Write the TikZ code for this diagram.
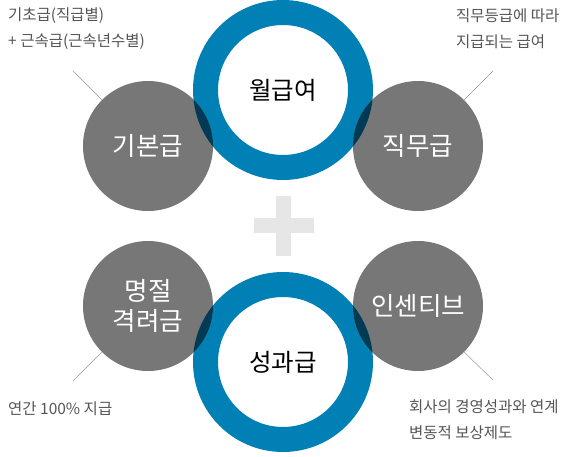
\documentclass[tikz,border=0pt]{standalone}
\usepackage{fontspec}
\setmainfont{Noto Sans CJK KR}
\definecolor{ringblue}{RGB}{0,128,180}
\definecolor{discgray}{RGB}{119,119,119}
\definecolor{overlapblue}{RGB}{0,58,84}
\definecolor{notegray}{RGB}{85,85,85}
\definecolor{plusgray}{RGB}{230,230,230}
\begin{document}
\begin{tikzpicture}[x=1pt,y=-1pt,
  ring/.style={circle, draw=ringblue, line width=25pt, minimum size=155pt, inner sep=0pt,
    font=\fontsize{24.5}{24.5}\selectfont},
  disc/.style={circle, fill=discgray, minimum size=130pt, inner sep=0pt, text=white,
    align=center, font=\fontsize{25.5}{30}\selectfont},
  note/.style={anchor=west, inner sep=0pt, text=notegray, align=left,
    font=\fontsize{15.5}{26}\selectfont},
  leader/.style={draw=black!40, line width=0.5pt}]
  \useasboundingbox (0,0) rectangle (565,457);
  % plus sign in the middle
  \def\cx{283.5} \def\cy{226}
  \fill[plusgray] (\cx-7.5,\cy-30) rectangle (\cx+7.5,\cy+30);
  \fill[plusgray] (\cx-30,\cy-7.5) rectangle (\cx+30,\cy+7.5);
  % two blue rings
  \node[ring] (monthly) at (283,90) {월급여};
  \node[ring] (perform) at (283,362) {성과급};
  % four gray discs
  \node[disc] (basic) at (148,146) {기본급};
  \node[disc] (duty) at (418,146) {직무급};
  \node[disc] (holiday) at (148,306) {명절\\격려금};
  \node[disc] (incent) at (418,306) {인센티브};
  % darker where disc and ring overlap
  \foreach \d/\r in {basic/monthly, duty/monthly, holiday/perform, incent/perform} {
    \begin{scope}
      \clip (\d.center) circle (65);
      \draw[overlapblue, line width=25pt] (\r.center) circle (77.5);
    \end{scope}
  }
  % leader lines
  \coordinate (basicend) at (73,71);
  \coordinate (dutyend) at (493,71);
  \coordinate (holidayend) at (73,381);
  \coordinate (incentend) at (493,380);
  \draw[leader] (basic.135) -- (basicend);
  \draw[leader] (duty.45) -- (dutyend);
  \draw[leader] (holiday.225) -- (holidayend);
  \draw[leader] (incent.315) -- (incentend);
  % notes
  \node[note] (basicnote) at (8,29) {기초급(직급별)\\+ 근속급(근속년수별)};
  \node[note] (dutynote) at (456,29) {직무등급에 따라\\지급되는 급여};
  \node[note] (holidaynote) at (8,409) {연간 100\% 지급};
  \node[note] (incentnote) at (409,420) {회사의 경영성과와 연계\\변동적 보상제도};
\end{tikzpicture}
\end{document}
